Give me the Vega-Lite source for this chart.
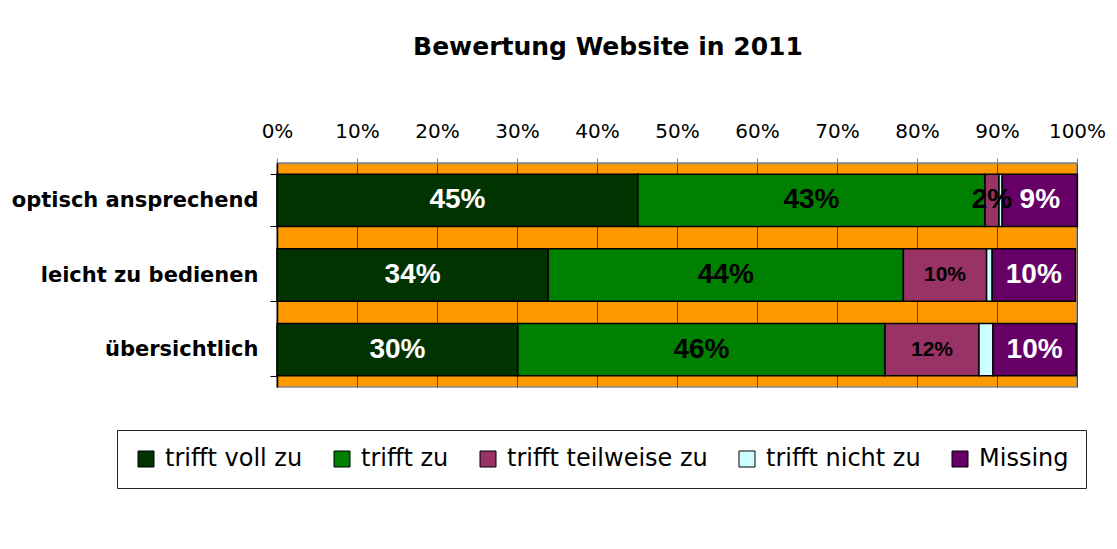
{
  "$schema": "https://vega.github.io/schema/vega-lite/v6.json",
  "width": 800,
  "height": 224,
  "autosize": {"type": "none"},
  "padding": {"left": 277, "top": 163, "right": 40, "bottom": 162},
  "background": "white",
  "title": {
    "text": "Bewertung Website in 2011",
    "font": "DejaVu Sans",
    "fontSize": 25,
    "fontWeight": "bold",
    "color": "black",
    "anchor": "middle",
    "dx": -69,
    "offset": 61
  },
  "config": {
    "view": {"fill": "#FF9900", "stroke": "#888888", "strokeWidth": 1.5}
  },
  "data": {
    "values": [
      {"item": "optisch ansprechend", "cat": "trifft voll zu", "value": 0.451, "order": 1},
      {"item": "optisch ansprechend", "cat": "trifft zu", "value": 0.434, "order": 2},
      {"item": "optisch ansprechend", "cat": "trifft teilweise zu", "value": 0.0175, "order": 3},
      {"item": "optisch ansprechend", "cat": "trifft nicht zu", "value": 0.004, "order": 4},
      {"item": "optisch ansprechend", "cat": "Missing", "value": 0.094, "order": 5},
      {"item": "leicht zu bedienen", "cat": "trifft voll zu", "value": 0.339, "order": 1},
      {"item": "leicht zu bedienen", "cat": "trifft zu", "value": 0.444, "order": 2},
      {"item": "leicht zu bedienen", "cat": "trifft teilweise zu", "value": 0.104, "order": 3},
      {"item": "leicht zu bedienen", "cat": "trifft nicht zu", "value": 0.007, "order": 4},
      {"item": "leicht zu bedienen", "cat": "Missing", "value": 0.104, "order": 5},
      {"item": "übersichtlich", "cat": "trifft voll zu", "value": 0.301, "order": 1},
      {"item": "übersichtlich", "cat": "trifft zu", "value": 0.459, "order": 2},
      {"item": "übersichtlich", "cat": "trifft teilweise zu", "value": 0.1175, "order": 3},
      {"item": "übersichtlich", "cat": "trifft nicht zu", "value": 0.0175, "order": 4},
      {"item": "übersichtlich", "cat": "Missing", "value": 0.104, "order": 5}
    ]
  },
  "encoding": {
    "y": {
      "field": "item",
      "type": "nominal",
      "sort": ["optisch ansprechend", "leicht zu bedienen", "übersichtlich"],
      "scale": {"paddingInner": 0.3, "paddingOuter": 0.15},
      "axis": {
        "title": null,
        "labelFont": "DejaVu Sans",
        "labelFontWeight": "bold",
        "labelFontSize": 21,
        "labelColor": "black",
        "labelPadding": 12,
        "labelLimit": 400,
        "tickSize": 7,
        "tickBand": "extent",
        "tickColor": "black",
        "domainColor": "black",
        "domainWidth": 1.5,
        "grid": false
      }
    }
  },
  "layer": [
    {
      "mark": {"type": "bar", "stroke": "black", "strokeWidth": 1.5},
      "encoding": {
        "x": {
          "field": "value",
          "type": "quantitative",
          "stack": "zero",
          "scale": {"domain": [0, 1], "nice": false},
          "axis": {
            "orient": "top",
            "title": null,
            "values": [0, 0.1, 0.2, 0.3, 0.4, 0.5, 0.6, 0.7, 0.8, 0.9, 1],
            "format": ".0%",
            "labelFont": "DejaVu Sans",
            "labelFontSize": 20,
            "labelColor": "black",
            "labelPadding": 17,
            "labelFlush": false,
            "tickSize": 5,
            "tickColor": "#888888",
            "domainColor": "#888888",
            "domainWidth": 1.5,
            "grid": true,
            "gridColor": "#000000",
            "gridOpacity": 0.55,
            "gridWidth": 1
          }
        },
        "color": {
          "field": "cat",
          "type": "nominal",
          "scale": {
            "domain": ["trifft voll zu", "trifft zu", "trifft teilweise zu", "trifft nicht zu", "Missing"],
            "range": ["#003300", "#008000", "#993366", "#CCFFFF", "#660066"]
          },
          "legend": {
            "title": null,
            "orient": "none",
            "direction": "horizontal",
            "legendX": -160,
            "legendY": 267,
            "fillColor": "white",
            "strokeColor": "#222222",
            "padding": 17,
            "symbolType": "square",
            "symbolSize": 256,
            "symbolStrokeColor": "black",
            "symbolStrokeWidth": 1,
            "symbolOpacity": 1,
            "labelFont": "DejaVu Sans",
            "labelFontSize": 24,
            "labelColor": "black",
            "labelOffset": 7,
            "columnPadding": 27,
            "labelLimit": 400
          }
        },
        "order": {"field": "order", "type": "quantitative"}
      }
    },
    {
      "transform": [
        {"stack": "value", "groupby": ["item"], "sort": [{"field": "order"}], "as": ["s0", "s1"]},
        {"filter": "datum.cat !== 'trifft nicht zu'"},
        {"calculate": "(datum.s0 + datum.s1) / 2", "as": "mid"}
      ],
      "mark": {"type": "text", "font": "Liberation Sans", "fontWeight": "bold", "align": "center", "baseline": "middle"},
      "encoding": {
        "x": {"field": "mid", "type": "quantitative"},
        "text": {"field": "value", "type": "quantitative", "format": ".0%"},
        "color": {
          "condition": {"test": "datum.cat === 'trifft voll zu' || datum.cat === 'Missing'", "value": "white"},
          "value": "black"
        },
        "size": {
          "condition": {"test": "datum.cat === 'trifft teilweise zu' && datum.item !== 'optisch ansprechend'", "value": 21},
          "value": 28
        }
      }
    }
  ]
}
